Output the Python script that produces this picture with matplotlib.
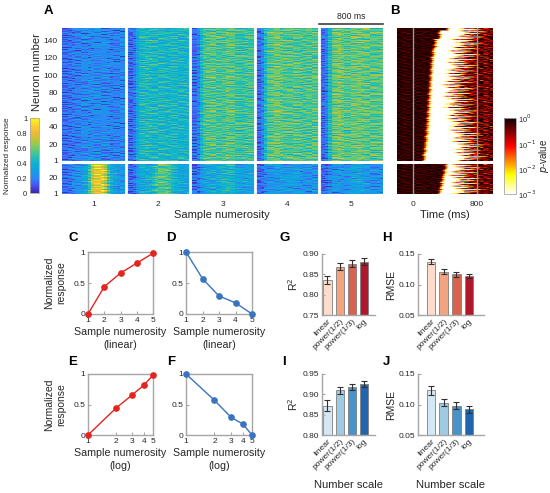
import numpy as np
import matplotlib
matplotlib.use("Agg")
import matplotlib.pyplot as plt
from matplotlib.colors import LinearSegmentedColormap, LogNorm

plt.rcParams['font.family'] = ['Liberation Sans', 'DejaVu Sans']

W, H = 550, 493

# ---------------- data ----------------
numerosity = [1, 2, 3, 4, 5]
resp_inc = [0.0, 0.44, 0.66, 0.82, 0.98]
resp_dec = [1.0, 0.57, 0.29, 0.18, 0.0]

scales = ['linear', 'power(1/2)', 'power(1/3)', 'log']
r2_inc = [0.837, 0.869, 0.876, 0.881]
r2_inc_err = [0.010, 0.009, 0.009, 0.009]
rmse_inc = [0.137, 0.121, 0.117, 0.114]
rmse_inc_err = [0.004, 0.004, 0.004, 0.004]
r2_dec = [0.872, 0.910, 0.918, 0.926]
r2_dec_err = [0.013, 0.008, 0.008, 0.008]
rmse_dec = [0.123, 0.103, 0.098, 0.092]
rmse_dec_err = [0.007, 0.006, 0.006, 0.006]

reds = ['#fddccb', '#f3a380', '#d9624e', '#b2182b']
blues = ['#d5e7f4', '#9ecae2', '#4794ca', '#2166ac']

# heatmap A: mean normalized response per sample numerosity
n_up, n_low = 154, 36
up_levels = [0.21, 0.42, 0.53, 0.55, 0.57]
low_levels = [0.27, 0.34, 0.32, 0.25, 0.25]
low_peaks = [0.82, 0.55, 0.40, 0.30, 0.30]
baseline = 0.12
block_profile = [0.05, 0.05, 0.2, 0.7, 0.95, 1.0, 1.05, 1.05, 1.0, 1.0,
                 1.0, 1.0, 1.0, 0.98, 0.98, 0.95, 0.95, 0.95, 0.95, 0.95]
peak_profile = [0, 0, 0, 0, 0, 0, 0, 0.1, 0.4, 0.8,
                1.0, 1.0, 1.0, 0.8, 0.4, 0.2, 0.1, 0, 0, 0]
row_gain = [1.0, 0.92, 1.06, 0.97, 1.1, 0.88, 1.03, 0.95, 1.08, 0.86, 1.0, 1.05, 0.94]
texture = [
    [0.10, -0.05, 0.02, 0.12, -0.08, 0.00, 0.06],
    [-0.12, -0.02, 0.08, -0.10, 0.04, 0.14, -0.06],
    [0.04, 0.16, -0.10, 0.02, 0.10, -0.04, -0.14],
    [-0.06, 0.00, 0.12, -0.14, -0.02, 0.08, 0.10],
    [0.14, -0.10, -0.04, 0.06, 0.16, -0.12, 0.02],
    [-0.02, 0.08, -0.14, 0.10, -0.06, 0.04, -0.08],
    [0.08, -0.16, 0.06, -0.02, 0.12, 0.00, 0.14],
    [-0.14, 0.04, 0.10, -0.08, 0.00, -0.10, 0.06],
    [0.02, 0.12, -0.06, 0.14, -0.12, 0.06, -0.02],
    [-0.08, -0.04, 0.00, 0.04, 0.08, 0.16, -0.10],
    [0.12, 0.06, -0.12, -0.06, 0.02, -0.08, 0.10],
]

# heatmap B: onset / offset of significant selectivity (ms), groups of rows bottom->top
b_up_onset = [165, 180, 192, 202, 210, 218, 225, 232, 240, 248, 256, 265, 280, 305, 360, 455]
b_up_offset = [640, 620, 600, 570, 540, 520, 500, 490, 480, 500, 520, 540, 560, 590, 640, 700]
b_low_onset = [360, 375, 385, 395, 410, 425, 440, 460]
b_low_offset = [600, 590, 570, 560, 550, 560, 580, 600]
onset_jitter = [-10, 5, 0, 12, -6, 15, -14]
offset_jitter = [-120, 40, -60, 140, -20, 200, -90, 20, 90, -140, 60, -40, 170]

parula_pts = [(0.2422, 0.1504, 0.6603), (0.2810, 0.3228, 0.9579), (0.1786, 0.5289, 0.9682),
              (0.0689, 0.6279, 0.8890), (0.0297, 0.7082, 0.8163), (0.1938, 0.7587, 0.6518),
              (0.4420, 0.7950, 0.4091), (0.7214, 0.7752, 0.2306), (0.9308, 0.7286, 0.2118),
              (0.9892, 0.8136, 0.1885), (0.9769, 0.9839, 0.0805)]
parula = LinearSegmentedColormap.from_list('parula', parula_pts)

GREY = '#a6a6a6'
TXT = '#262626'


def rect(x0, y0, x1, y1):
    return [x0 / W, 1 - y1 / H, (x1 - x0) / W, (y1 - y0) / H]


def tile_to(t, nrows, ncols):
    t = np.tile(t, (nrows // t.shape[0] + 1, ncols // t.shape[1] + 1))
    return t[:nrows, :ncols]


def tex_field(nrows, ncols):
    t1 = np.repeat(np.array(texture), 2, axis=1)
    t2 = np.repeat(np.array(texture).T, 3, axis=1)
    return tile_to(t1, nrows, ncols) + tile_to(t2, nrows, ncols)


def build_A(nrows, levels, peaks=None):
    ncol = len(block_profile)
    gain = np.tile(row_gain, nrows // len(row_gain) + 1)[:nrows][:, None]
    blocks = []
    for k, lev in enumerate(levels):
        prof = np.array(block_profile)[None, :]
        val = baseline + (lev - baseline) * prof * gain
        if peaks is not None:
            val = val + (peaks[k] - lev) * np.array(peak_profile)[None, :] * gain
        blocks.append(val)
    img = np.hstack(blocks) + tex_field(nrows, ncol * len(levels)) * 0.65
    return np.clip(img, 0.02, 1)


def build_B(nrows, onsets, offsets, group):
    t = np.arange(-200, 1000, 20) + 10.0
    tex = tex_field(nrows, len(t))
    img = np.zeros((nrows, len(t)))
    for r in range(nrows):
        on = onsets[min(r // group, len(onsets) - 1)] + onset_jitter[r % len(onset_jitter)]
        off = offsets[min(r // group, len(offsets) - 1)] + offset_jitter[r % len(offset_jitter)]
        f_on = np.clip((t - (on - 50)) / 50, 0, 1)
        f_off = np.clip((t - off) / 120, 0, 1)
        pre = -0.18 + 1.3 * tex[r]
        post = -0.45 + 4.2 * tex[r]
        img[r] = pre * (1 - f_on) + (-3) * f_on * (1 - f_off) + post * f_on * f_off
    return 10 ** np.clip(img, -3, -0.01)


fig = plt.figure(figsize=(W / 100, H / 100), dpi=100)

# ---------------- A ----------------
axAu = fig.add_axes(rect(62, 28, 383, 161))
axAl = fig.add_axes(rect(62, 164, 383, 194))
imA = axAu.imshow(build_A(n_up, up_levels), cmap=parula, vmin=0, vmax=1, aspect='auto',
                  origin='lower', extent=(0.5, 5.5, 0.5, n_up + 0.5), interpolation='nearest')
axAl.imshow(build_A(n_low, low_levels, low_peaks), cmap=parula, vmin=0, vmax=1, aspect='auto',
            origin='lower', extent=(0.5, 5.5, 0.5, n_low + 0.5), interpolation='nearest')
for ax, ticks in ((axAu, [1, 20, 40, 60, 80, 100, 120, 140]), (axAl, [1, 20])):
    for xb in [1.5, 2.5, 3.5, 4.5]:
        ax.axvline(xb, color='white', lw=2)
    ax.set_yticks(ticks)
    ax.tick_params(length=0, labelsize=6, labelcolor=TXT, pad=3)
    for s in ax.spines.values():
        s.set_visible(False)
axAu.set_xticks([])
axAl.set_xticks(numerosity)
axAl.tick_params(axis='x', pad=5)
fig.text(37 / W, 1 - 72 / H, 'Neuron number', rotation=90, ha='center', va='center',
         fontsize=8, color=TXT)
fig.text(222 / W, 1 - 215 / H, 'Sample numerosity', ha='center', va='center',
         fontsize=8, color=TXT)
axAu.plot([4.5, 5.5], [1.03, 1.03], color='#404040', lw=1.2, clip_on=False,
          transform=axAu.get_xaxis_transform())
axAu.text(5.0, 1.05, '800 ms', ha='center', va='bottom', fontsize=6.2, color=TXT,
          transform=axAu.get_xaxis_transform())

caxA = fig.add_axes(rect(30, 118, 39, 193))
cbA = fig.colorbar(imA, cax=caxA, ticks=[0, 0.2, 0.4, 0.6, 0.8, 1])
cbA.set_ticklabels(['0', '0.2', '0.4', '0.6', '0.8', '1'])
caxA.yaxis.set_ticks_position('left')
caxA.tick_params(labelsize=5.5, length=0, labelcolor=TXT, pad=2)
cbA.outline.set_edgecolor(GREY)
cbA.outline.set_linewidth(0.6)
fig.text(8 / W, 1 - 156 / H, 'Normalized response', rotation=90, ha='center', va='center',
         fontsize=5.9, color=TXT)

# ---------------- B ----------------
axBu = fig.add_axes(rect(397, 28, 493, 161))
axBl = fig.add_axes(rect(397, 164, 493, 194))
norm = LogNorm(vmin=1e-3, vmax=1)
imB = axBu.imshow(build_B(n_up, b_up_onset, b_up_offset, 10), cmap='hot_r', norm=norm,
                  aspect='auto', origin='lower', extent=(-200, 1000, 0.5, n_up + 0.5))
axBl.imshow(build_B(n_low, b_low_onset, b_low_offset, 5), cmap='hot_r', norm=norm,
            aspect='auto', origin='lower', extent=(-200, 1000, 0.5, n_low + 0.5))
for ax in (axBu, axBl):
    for tl in (0, 800):
        ax.axvline(tl, color='#9a9a9a', lw=1)
    ax.set_yticks([])
    ax.tick_params(length=0, labelsize=6, labelcolor=TXT, pad=5)
    for s in ax.spines.values():
        s.set_visible(False)
axBu.set_xticks([])
axBl.set_xticks([0, 800])
fig.text(445 / W, 1 - 215 / H, 'Time (ms)', ha='center', va='center', fontsize=8, color=TXT)

caxB = fig.add_axes(rect(504, 118, 516, 194))
cbB = fig.colorbar(imB, cax=caxB, ticks=[1, 1e-1, 1e-2, 1e-3])
cbB.set_ticklabels(['10$^{0}$', '10$^{-1}$', '10$^{-2}$', '10$^{-3}$'])
caxB.minorticks_off()
caxB.tick_params(labelsize=5.5, length=0, labelcolor=TXT, pad=1.5)
cbB.outline.set_edgecolor(GREY)
cbB.outline.set_linewidth(0.6)
fig.text(544 / W, 1 - 156 / H, '$p$-value', rotation=90, ha='center', va='center',
         fontsize=7, color=TXT)

# ---------------- C-F ----------------
def line_panel(ax, y, color, log=False):
    ax.plot(numerosity, y, color=color, lw=1.0, marker='o', ms=3.8, clip_on=False, zorder=3)
    if log:
        ax.set_xscale('log')
    ax.set_xlim(1, 5)
    ax.set_ylim(0, 1)
    ax.set_xticks(numerosity)
    ax.set_xticklabels([str(n) for n in numerosity])
    ax.minorticks_off()
    ax.set_yticks([0, 0.5, 1])
    ax.set_yticklabels(['0', '0.5', '1'])
    ax.tick_params(labelsize=6, labelcolor=TXT, color=GREY, direction='in', length=2, pad=2)
    for s in ax.spines.values():
        s.set_color(GREY)
        s.set_linewidth(1)


RED = '#e3241f'
BLUE = '#3a74c1'
axC = fig.add_axes(rect(88, 252, 153, 314))
axD = fig.add_axes(rect(186, 252, 252, 314))
axE = fig.add_axes(rect(88, 374, 153, 435))
axF = fig.add_axes(rect(186, 374, 252, 435))
line_panel(axC, resp_inc, RED)
line_panel(axD, resp_dec, BLUE)
line_panel(axE, resp_inc, RED, log=True)
line_panel(axF, resp_dec, BLUE, log=True)
for ax, lab in ((axC, '(linear)'), (axD, '(linear)'), (axE, '(log)'), (axF, '(log)')):
    ax.set_xlabel('Sample numerosity\n' + lab, fontsize=7.7, color=TXT, labelpad=2,
                  linespacing=1.4)
for ax in (axC, axE):
    ax.set_ylabel('Normalized\nresponse', fontsize=7.5, color=TXT, labelpad=5, linespacing=1.25)

# ---------------- G-J ----------------
def bar_panel(ax, vals, errs, colors, ylim, yticks, ylabel, xlim, xlabel=False):
    x = np.arange(1, len(vals) + 1)
    ax.bar(x, [v - ylim[0] for v in vals], bottom=ylim[0], width=0.68, color=colors,
           edgecolor='#7f7f7f', linewidth=0.6)
    ax.errorbar(x, vals, yerr=errs, fmt='none', ecolor='#303030', elinewidth=0.8,
                capsize=2, capthick=0.8)
    ax.set_ylim(*ylim)
    ax.set_xlim(*xlim)
    ax.set_yticks(yticks)
    ax.set_yticklabels(['%.2f' % v for v in yticks])
    ax.set_xticks(x)
    ax.set_xticklabels(scales, rotation=45, ha='right', rotation_mode='anchor')
    ax.tick_params(labelsize=6, labelcolor=TXT, color=GREY, direction='in', length=2, pad=2)
    ax.tick_params(axis='x', length=0, pad=2)
    for s in ('top', 'right'):
        ax.spines[s].set_visible(False)
    for s in ('left', 'bottom'):
        ax.spines[s].set_color(GREY)
        ax.spines[s].set_linewidth(1)
    ax.set_ylabel(ylabel, fontsize=7.5, color=TXT, labelpad=2)
    if xlabel:
        ax.set_xlabel('Number scale', fontsize=8, color=TXT)
        ax.xaxis.set_label_coords(0.5, -0.74)


axG = fig.add_axes(rect(322, 254, 375, 315))
axH = fig.add_axes(rect(418, 254, 484, 315))
axI = fig.add_axes(rect(322, 374, 375, 435))
axJ = fig.add_axes(rect(418, 374, 484, 435))
bar_panel(axG, r2_inc, r2_inc_err, reds, (0.75, 0.90), [0.75, 0.80, 0.85, 0.90], 'R$^2$',
          (0.55, 4.9))
bar_panel(axH, rmse_inc, rmse_inc_err, reds, (0.05, 0.15), [0.05, 0.10, 0.15], 'RMSE',
          (-0.05, 5.2))
bar_panel(axI, r2_dec, r2_dec_err, blues, (0.80, 0.95), [0.80, 0.85, 0.90, 0.95], 'R$^2$',
          (0.55, 4.9), xlabel=True)
bar_panel(axJ, rmse_dec, rmse_dec_err, blues, (0.05, 0.15), [0.05, 0.10, 0.15], 'RMSE',
          (-0.05, 5.2), xlabel=True)

# panel letters
for lab, x, y in (('A', 48, 11), ('B', 395, 11), ('C', 73, 238), ('D', 171, 238),
                  ('E', 73, 362), ('F', 171, 362), ('G', 285, 238), ('H', 387, 238),
                  ('I', 284, 362), ('J', 386, 362)):
    fig.text(x / W, 1 - y / H, lab, fontsize=9.5, fontweight='bold', ha='center',
             va='center', color='black')

fig.savefig('out.png', dpi=100)
